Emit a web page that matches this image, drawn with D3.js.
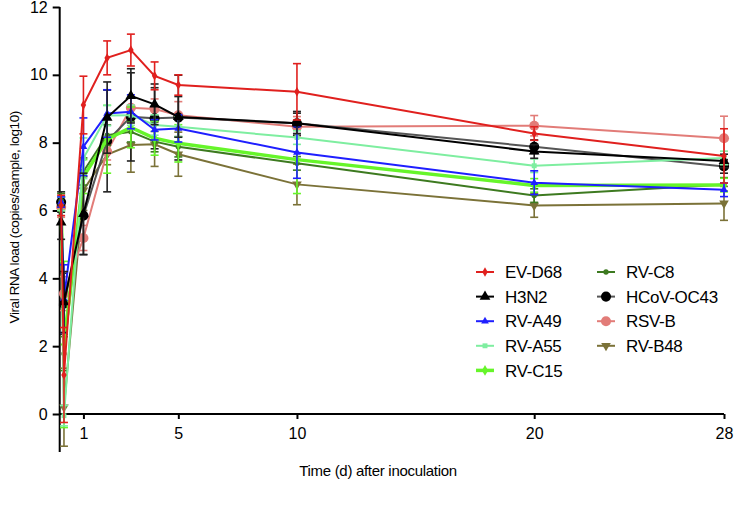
<!DOCTYPE html>
<html>
<head>
<meta charset="utf-8">
<script src="https://cdn.jsdelivr.net/npm/d3@7"></script>
<style>
  body { margin: 0; background: #fff; }
  svg { font-family: "Liberation Sans", Arial, sans-serif; }
</style>
</head>
<body>
<svg id="chart" width="735" height="505"></svg>
<script>
// sampling days
const days = [0.06, 0.18, 1, 2, 3, 4, 5, 10, 20, 28];
const xTicks = [1, 5, 10, 20, 28];
const yTicks = [0, 2, 4, 6, 8, 10, 12];

const seriesNames = ['EV-D68', 'H3N2', 'RV-A49', 'RV-A55', 'RV-C15', 'RV-C8', 'HCoV-OC43', 'RSV-B', 'RV-B48'];

// mean log10 load per virus
const evD68  = [6.15, 1.15, 9.11, 10.5, 10.73, 9.97, 9.70, 9.50, 8.27, 7.61];
const h3n2   = [5.65, 3.30, 5.90, 8.74, 9.38, 9.13, 8.76, 8.57, 7.74, 7.46];
const rvA49  = [6.25, 3.40, 7.88, 8.86, 8.91, 8.38, 8.42, 7.71, 6.82, 6.61];
const rvA55  = [6.20, -0.05, 7.54, 8.80, 8.81, 8.52, 8.47, 8.15, 7.32, 7.55];
const rvC15  = [6.20, 2.05, 7.00, 8.10, 8.45, 8.13, 7.98, 7.50, 6.74, 6.75];
const rvC8   = [6.30, 1.78, 7.15, 8.22, 8.32, 8.03, 7.88, 7.39, 6.44, 6.77];
const hcov   = [6.25, 3.25, 5.85, 8.05, 8.76, 8.72, 8.74, 8.57, 7.88, 7.30];
const rsvB   = [6.10, 3.55, 5.19, 7.74, 9.03, 8.99, 8.81, 8.47, 8.50, 8.13];
const rvB48  = [6.20, 0.20, 6.60, 7.65, 7.93, 7.95, 7.66, 6.77, 6.15, 6.21];

// error bar half-widths
const evD68Err = [0.30, 1.40, 0.85, 0.50, 0.47, 0.41, 0.30, 0.83, 0.20, 0.80];
const h3n2Err  = [0.50, 0.90, 1.20, 1.05, 0.80, 0.60, 0.60, 0.30, 0.20, 0.20];
const rvA49Err = [0.15, 1.00, 0.85, 0.70, 0.50, 0.30, 0.40, 0.76, 0.35, 0.20];
const rvA55Err = [0.20, 0.30, 0.60, 0.30, 0.30, 0.30, 0.30, 0.20, 0.20, 0.20];
const rvC15Err = [0.20, 2.45, 0.50, 1.00, 0.60, 0.50, 0.55, 1.00, 0.20, 0.20];
const rvC8Err  = [0.20, 0.50, 0.40, 0.30, 0.30, 0.30, 0.30, 0.20, 0.20, 0.20];
const hcovErr  = [0.30, 0.90, 1.15, 1.50, 1.30, 0.90, 1.25, 0.35, 0.20, 0.20];
const rsvBErr  = [0.30, 0.50, 0.37, 0.25, 0.30, 0.30, 0.40, 0.30, 0.30, 0.65];
const rvB48Err = [0.20, 1.15, 0.60, 0.30, 0.80, 0.65, 0.65, 0.60, 0.35, 0.50];

const means = [evD68, h3n2, rvA49, rvA55, rvC15, rvC8, hcov, rsvB, rvB48];
const errs = [evD68Err, h3n2Err, rvA49Err, rvA55Err, rvC15Err, rvC8Err, hcovErr, rsvBErr, rvB48Err];

const styles = [
  {color: '#e0201e', line: '#e0201e', width: 2, shape: d3.symbolDiamond, size: 26},
  {color: '#000000', line: '#000000', width: 2, shape: d3.symbolTriangle, size: 50},
  {color: '#1f1fff', line: '#1f1fff', width: 2, shape: d3.symbolTriangle, size: 26},
  {color: '#7eeea0', line: '#7eeea0', width: 2, shape: d3.symbolSquare, size: 24},
  {color: '#66f52a', line: '#66f52a', width: 3.5, shape: d3.symbolDiamond, size: 34},
  {color: '#3d7a20', line: '#3d7a20', width: 2, shape: d3.symbolCircle, size: 22},
  {color: '#000000', line: '#555555', width: 2, shape: d3.symbolCircle, size: 80},
  {color: '#e27c78', line: '#e27c78', width: 2, shape: d3.symbolCircle, size: 80},
  {color: '#7b7238', line: '#7b7238', width: 2, shape: d3.symbolTriangle, size: 40, flip: true}
];

const svg = d3.select('#chart');
const x = d3.scaleLinear().domain([0, 28]).range([59.7, 724]);
const y = d3.scaleLinear().domain([0, 12]).range([414, 7]);

// axes
const gx = svg.append('g').attr('transform', `translate(0,${y(0)})`)
  .call(d3.axisBottom(x).tickValues(xTicks).tickSize(5).tickPadding(9));
gx.select('.domain').attr('d', `M${x(0)},0H${x(28)}`);
const gy = svg.append('g').attr('transform', `translate(${x(0)},0)`)
  .call(d3.axisLeft(y).tickValues(yTicks).tickSize(7).tickPadding(5));
gy.select('.domain').attr('d', `M0,${y(-1.12)}V${y(12)}`);
svg.selectAll('.domain').attr('stroke', '#000').attr('stroke-width', 2);
svg.selectAll('.tick line').attr('stroke', '#000').attr('stroke-width', 2);
svg.selectAll('.tick text').attr('font-size', 16).attr('fill', '#000')
  .attr('font-family', '"Liberation Sans", Arial, sans-serif');

svg.append('text')
  .attr('transform', `translate(19,${y(5.8)}) rotate(-90)`)
  .attr('text-anchor', 'middle')
  .attr('font-size', 13.5)
  .attr('letter-spacing', -0.4)
  .text('Viral RNA load (copies/sample, log10)');

svg.append('text')
  .attr('x', 378).attr('y', 476)
  .attr('text-anchor', 'middle')
  .attr('font-size', 15)
  .attr('letter-spacing', -0.3)
  .text('Time (d) after inoculation');

// series, drawn last-first so EV-D68 sits on top
const line = d3.line().x(d => x(d.t)).y(d => y(d.v));
const order = d3.range(seriesNames.length).reverse();
order.forEach(i => {
  const st = styles[i];
  const pts = days.map((t, k) => ({t: t, v: means[i][k], e: errs[i][k]}));
  const g = svg.append('g').attr('class', 'series');
  const eb = g.append('g');
  pts.forEach(p => {
    const px = x(p.t);
    eb.append('line').attr('x1', px).attr('x2', px)
      .attr('y1', y(p.v - p.e)).attr('y2', y(p.v + p.e));
    [p.v - p.e, p.v + p.e].forEach(v => {
      eb.append('line').attr('x1', px - 4).attr('x2', px + 4)
        .attr('y1', y(v)).attr('y2', y(v));
    });
  });
  eb.selectAll('line').attr('stroke', st.color === '#000000' ? '#222' : st.color)
    .attr('stroke-width', 1.6);
  g.append('path').datum(pts)
    .attr('d', line)
    .attr('fill', 'none')
    .attr('stroke', st.line)
    .attr('stroke-width', st.width);
  g.selectAll('path.mk').data(pts).enter().append('path')
    .attr('class', 'mk')
    .attr('d', d3.symbol().type(st.shape).size(st.size))
    .attr('transform', d => `translate(${x(d.t)},${y(d.v)})${st.flip ? ' rotate(180)' : ''}`)
    .attr('fill', st.color);
});

// legend
const legend = svg.append('g');
seriesNames.forEach((name, i) => {
  const st = styles[i];
  const col = i < 5 ? 0 : 1;
  const row = i < 5 ? i : i - 5;
  const lx = col === 0 ? 476 : 597;
  const ly = 272 + row * 24.6;
  const item = legend.append('g').attr('transform', `translate(${lx},${ly})`);
  item.append('line').attr('x1', 0).attr('x2', 18).attr('y1', 0).attr('y2', 0)
    .attr('stroke', st.line).attr('stroke-width', st.width);
  item.append('path')
    .attr('d', d3.symbol().type(st.shape).size(st.size))
    .attr('transform', `translate(9,0)${st.flip ? ' rotate(180)' : ''}`)
    .attr('fill', st.color);
  item.append('text').attr('x', 29).attr('y', 0)
    .attr('dy', '0.36em')
    .attr('font-size', 17)
    .attr('letter-spacing', -0.3)
    .text(name);
});
</script>
</body>
</html>
